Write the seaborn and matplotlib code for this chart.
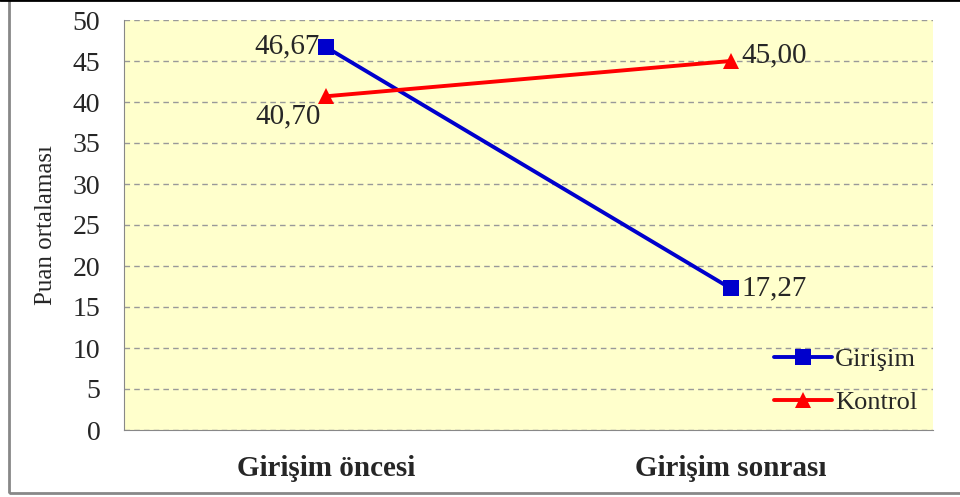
import pandas as pd
import numpy as np
import matplotlib
matplotlib.use("Agg")
import matplotlib.pyplot as plt
import seaborn as sns
from matplotlib.patches import Rectangle

phases = ["Girişim öncesi", "Girişim sonrası"]
girisim = [46.67, 17.27]
kontrol = [40.70, 45.00]
groups = ["Girişim", "Kontrol"]
y_ticks = [0, 5, 10, 15, 20, 25, 30, 35, 40, 45, 50]

df = pd.DataFrame({
    "phase": phases * 2,
    "score": girisim + kontrol,
    "group": [groups[0]] * 2 + [groups[1]] * 2,
})

sns.set_style("white")
plt.rcParams["font.family"] = ["Liberation Serif", "DejaVu Serif"]

fig = plt.figure(figsize=(9.6, 4.97), dpi=100)
ax = fig.add_axes([124 / 960, 1 - 430 / 497, (933 - 124) / 960, (430 - 20) / 497])
ax.set_facecolor("#ffffcc")

sns.lineplot(data=df, x="phase", y="score", hue="group", style="group",
             palette={"Girişim": "#0000cc", "Kontrol": "#ff0000"},
             markers={"Girişim": "s", "Kontrol": "^"}, dashes=False,
             linewidth=2.8, markersize=12, markeredgewidth=0, sort=False, ax=ax)

ax.set_xlim(-0.5, 1.5)
ax.set_ylim(0, 50)
ax.set_yticks(y_ticks)
ax.yaxis.grid(True, linestyle=(0, (4, 3)), color="#999999", linewidth=1)
ax.set_axisbelow(True)
for s in ["top", "right"]:
    ax.spines[s].set_visible(False)
ax.spines["left"].set_color("#888888")
ax.spines["bottom"].set_color("#888888")
ax.tick_params(axis="y", labelsize=20, length=0, pad=17)
ax.tick_params(axis="x", labelsize=21, length=0, pad=18)
for lab in ax.get_xticklabels():
    lab.set_fontweight("bold")
ax.set_xlabel("")
ax.set_ylabel("Puan ortalaması", fontsize=18, labelpad=11)

# value labels
def fmt(v):
    return f"{v:.2f}".replace(".", ",")

ax.annotate(fmt(girisim[0]), (0, girisim[0]), xytext=(-5, 1), textcoords="offset points",
            ha="right", va="center", fontsize=21)
ax.annotate(fmt(girisim[1]), (1, girisim[1]), xytext=(8, 0), textcoords="offset points",
            ha="left", va="center", fontsize=21)
ax.annotate(fmt(kontrol[0]), (0, kontrol[0]), xytext=(-4, -5), textcoords="offset points",
            ha="right", va="top", fontsize=21)
ax.annotate(fmt(kontrol[1]), (1, kontrol[1]), xytext=(8, 4), textcoords="offset points",
            ha="left", va="center", fontsize=21)

leg = ax.legend(loc="lower right", frameon=False, fontsize=19, handlelength=2.2,
                handletextpad=0.1, labelspacing=0.75, borderaxespad=0.2,
                bbox_to_anchor=(1.0, 0.0))

fig.patches.append(Rectangle((9 / 960, 4 / 497), 1.2, 1.2, transform=fig.transFigure,
                             fill=False, edgecolor="#888888", linewidth=2))
fig.add_artist(plt.Line2D([0, 1], [0.999, 0.999], color="black", linewidth=2,
                          transform=fig.transFigure))

fig.savefig("out.png", dpi=100)
